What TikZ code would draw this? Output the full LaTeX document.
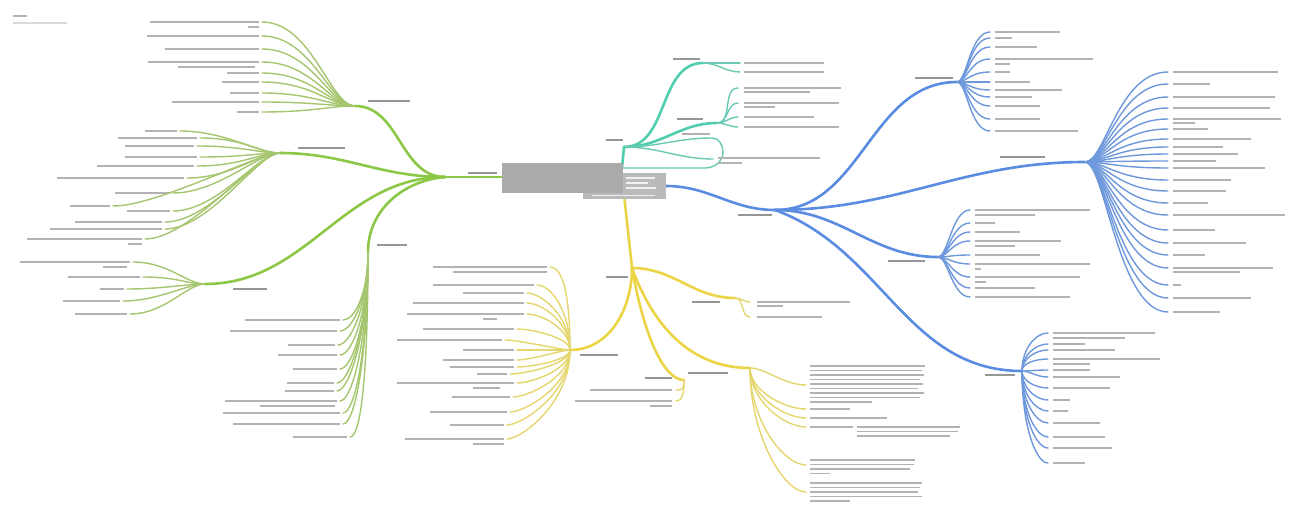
\documentclass[tikz,border=0pt]{standalone}
\usetikzlibrary{calc}
\definecolor{gstem}{RGB}{140,200,70}
\definecolor{gtwig}{RGB}{165,198,110}
\definecolor{tstem}{RGB}{80,205,175}
\definecolor{ttwig}{RGB}{105,202,180}
\definecolor{bstem}{RGB}{90,140,225}
\definecolor{btwig}{RGB}{110,152,220}
\definecolor{ystem}{RGB}{235,212,70}
\definecolor{ytwig}{RGB}{230,214,110}
\definecolor{txtgray}{RGB}{178,178,178}
\definecolor{hubgray}{RGB}{150,150,150}
\definecolor{rootdark}{RGB}{170,170,170}
\definecolor{rootlight}{RGB}{186,186,186}
\newcommand\lbar[3]{\fill[txt] (#1,-#3-0.8) rectangle (#2,-#3+0.8);}
\newcommand\hublbl[3]{\fill[hubtxt] (#1,-#3-1) rectangle (#2,-#3+1);}
\begin{document}
\begin{tikzpicture}[x=1pt,y=1pt,
  twig/.style={line width=1.4pt,line cap=round},
  stem/.style={line width=2.6pt,line cap=round},
  txt/.style={fill=txtgray},
  hubtxt/.style={fill=hubgray},
  rootbox/.style={draw=none,fill=#1,inner sep=0pt}]
\useasboundingbox (0,0) rectangle (1290,-505);
\fill[white] (0,0) rectangle (1290,-505);

% title in the corner
\fill[gray!60] (13,-15.2) rectangle (27,-16.8);
\fill[gray!30] (13,-22.3) rectangle (67,-23.7);

% ---------- hubs ----------
\coordinate (g0) at (445,-177);
\coordinate (ga) at (355,-106);
\coordinate (gb) at (280,-153);
\coordinate (gc) at (205,-284);
\coordinate (gd) at (368,-252);
\coordinate (tb0) at (622,-168);
\coordinate (t0) at (624,-147);
\coordinate (ta) at (703,-63);
\coordinate (tb) at (717,-123);
\coordinate (b0) at (775,-210);
\coordinate (ba) at (957,-82);
\coordinate (bb) at (1085,-162);
\coordinate (bc) at (938,-257);
\coordinate (bd) at (1022,-371);
\coordinate (y0) at (632,-268);
\coordinate (ya) at (570,-350);
\coordinate (yb) at (735,-298);
\coordinate (yc) at (684,-380);
\coordinate (yd) at (750,-368);

% ---------- green branch (left) ----------
\draw[stem,gstem] (g0) -- (502,-177);
\draw[stem,gstem] (g0) to[out=180,in=0] (ga);
\draw[stem,gstem] (g0) to[out=180,in=0] (gb);
\draw[stem,gstem] (g0) to[out=180,in=0] (gc);
\draw[stem,gstem] (g0) to[out=185,in=90] (gd);
\hublbl{468}{497}{173}
\hublbl{368}{410}{101}
\hublbl{298}{345}{148}
\hublbl{233}{267}{289}
\hublbl{377}{407}{245}

\foreach \y/\l in {22/150,36/147,49/165,62/148,73/227,82/222,93/230,102/172,112/237}{
  \coordinate (ga-\y) at (262,-\y);
  \draw[twig,gtwig] (ga) to[out=180,in=0,out distance=25pt,in distance=50pt] (ga-\y);
  \lbar{\l}{259}{\y}
}
\lbar{248}{259}{27}
\lbar{178}{255}{67}

\foreach \x/\y/\l in {180/131/145,200/138/118,197/146/125,200/157/125,197/166/97,
  187/178/57,173/193/115,113/206/70,173/211/127,165/222/75,165/229/50,145/239/27}{
  \coordinate (gb-\y) at (\x,-\y);
  \draw[twig,gtwig] (gb) to[out=180,in=0,out distance=22pt,in distance=45pt] (gb-\y);
  \lbar{\l}{\x-3}{\y}
}
\lbar{128}{142}{244}

\foreach \x/\y/\l in {133/262/20,143/277/68,127/289/100,123/301/63,130/314/75}{
  \coordinate (gc-\y) at (\x,-\y);
  \draw[twig,gtwig] (gc) to[out=180,in=0,out distance=18pt,in distance=35pt] (gc-\y);
  \lbar{\l}{\x-3}{\y}
}
\lbar{103}{127}{267}

\foreach \x/\y/\l in {343/320/245,340/331/230,338/345/288,340/355/278,340/369/293,
  337/383/287,337/391/285,340/401/225,343/413/223,343/424/233,350/437/293}{
  \pgfmathsetmacro\od{0.6*(\y-252)}
  \coordinate (gd-\y) at (\x,-\y);
  \draw[twig,gtwig] (gd) to[out=270,in=0,out distance=\od pt,in distance=12pt] (gd-\y);
  \lbar{\l}{\x-3}{\y}
}
\lbar{260}{335}{406}

% ---------- teal branch (top) ----------
\draw[stem,tstem] (tb0) -- (t0);
\draw[stem,tstem] (t0) to[out=0,in=180] (ta);
\draw[stem,tstem] (t0) to[out=0,in=180] (tb);
\hublbl{606}{623}{140}
\hublbl{673}{700}{59}
\hublbl{677}{703}{119}
\foreach \y/\w in {63/80,72/80}{
  \coordinate (ta-\y) at (740,-\y);
  \draw[twig,ttwig] (ta) to[out=0,in=180] (ta-\y);
  \lbar{744}{744+\w}{\y}
}
\foreach \y/\w in {88/97,103/95,117/70,127/95}{
  \coordinate (tb-\y) at (738,-\y);
  \draw[twig,ttwig] (tb) to[out=0,in=180] (tb-\y);
  \lbar{744}{744+\w}{\y}
}
\lbar{744}{810}{92}
\lbar{744}{775}{107}
\coordinate (tc1) at (712,-138);
\coordinate (tc2) at (713,-159);
\coordinate (tc3) at (705,-168);
\draw[twig,ttwig] (t0) to[out=0,in=180] (tc1);
\draw[twig,ttwig] (t0) to[out=0,in=180] (tc2);
\draw[twig,ttwig] (tb0) -- (tc3) to[out=0,in=-90] (723,-152) to[out=90,in=0] (tc1);
\lbar{682}{710}{134}
\lbar{718}{820}{158}
\lbar{718}{742}{163}

% ---------- blue branch (right) ----------
\draw[stem,bstem] (666,-186) to[out=0,in=180] (b0);
\draw[stem,bstem] (b0) to[out=0,in=180] (ba);
\draw[stem,bstem] (b0) to[out=0,in=180] (bb);
\draw[stem,bstem] (b0) to[out=0,in=180] (bc);
\draw[stem,bstem] (b0) to[out=-20,in=180] (bd);
\hublbl{738}{772}{215}
\hublbl{915}{953}{78}
\hublbl{1000}{1045}{157}
\hublbl{888}{925}{261}
\hublbl{985}{1015}{375}

\foreach \y/\w in {32/65,38/17,47/42,59/98,72/15,82/35,90/67,97/37,106/45,119/45,131/83}{
  \coordinate (ba-\y) at (990,-\y);
  \draw[twig,btwig] (ba) to[out=0,in=180,out distance=10pt,in distance=20pt] (ba-\y);
  \lbar{995}{995+\w}{\y}
}
\lbar{995}{1010}{64}

\foreach \y/\w in {72/105,84/37,97/102,108/97,119/108,129/35,139/78,147/50,154/65,161/43,
  168/92,180/58,191/53,203/35,215/112,230/42,243/73,255/32,268/100,285/8,298/78,312/47}{
  \coordinate (bb-\y) at (1168,-\y);
  \draw[twig,btwig] (bb) to[out=0,in=180,out distance=20pt,in distance=50pt] (bb-\y);
  \lbar{1173}{1173+\w}{\y}
}
\lbar{1173}{1195}{123}
\lbar{1173}{1240}{272}

\foreach \y/\w in {210/115,223/20,232/45,241/86,255/65,264/115,277/105,288/60,297/95}{
  \coordinate (bc-\y) at (970,-\y);
  \draw[twig,btwig] (bc) to[out=0,in=180,out distance=10pt,in distance=18pt] (bc-\y);
  \lbar{975}{975+\w}{\y}
}
\lbar{975}{1035}{215}
\lbar{975}{1015}{246}
\lbar{975}{981}{269}
\lbar{975}{986}{282}

\foreach \y/\w in {333/102,344/32,350/62,359/107,370/37,377/67,388/57,400/17,411/15,
  423/47,437/52,448/59,463/32}{
  \pgfmathsetmacro\dy{\y-371}
  \pgfmathsetmacro\oa{abs(\dy)<12 ? 0 : (\dy<0 ? 90 : 270)}
  \pgfmathsetmacro\od{max(0.6*abs(\dy),8)}
  \coordinate (bd-\y) at (1048,-\y);
  \draw[twig,btwig] (bd) to[out=\oa,in=180,out distance=\od pt,in distance=12pt] (bd-\y);
  \lbar{1053}{1053+\w}{\y}
}
\lbar{1053}{1125}{338}
\lbar{1053}{1090}{364}

% ---------- yellow branch (bottom) ----------
\draw[stem,ystem] (624.5,-199) -- (y0);
\draw[stem,ystem] (y0) to[out=-90,in=0] (ya);
\draw[stem,ystem] (y0) to[out=0,in=180] (yb);
\draw[stem,ystem] (y0) to[out=-80,in=180,out distance=70pt,in distance=20pt] (yc);
\draw[stem,ystem] (y0) to[out=-70,in=180] (yd);
\hublbl{606}{628}{277}
\hublbl{580}{618}{355}
\hublbl{692}{720}{302}
\hublbl{645}{672}{378}
\hublbl{688}{728}{373}

\foreach \x/\y/\l in {550/267/433,537/285/433,527/293/463,527/303/413,527/314/407,
  517/329/423,505/340/397,517/350/463,517/360/443,517/367/450,510/374/477,
  517/383/397,513/397/452,510/412/430,507/425/450,507/439/405}{
  \pgfmathsetmacro\dy{\y-350}
  \pgfmathsetmacro\oa{abs(\dy)<15 ? 180 : (\dy<0 ? 90 : 270)}
  \pgfmathsetmacro\od{max(0.6*abs(\dy),8)}
  \coordinate (ya-\y) at (\x,-\y);
  \draw[twig,ytwig] (ya) to[out=\oa,in=0,out distance=\od pt,in distance=14pt] (ya-\y);
  \lbar{\l}{\x-3}{\y}
}
\lbar{453}{547}{272}
\lbar{483}{497}{319}
\lbar{473}{500}{388}
\lbar{473}{504}{444}

\foreach \y/\w in {302/93,317/65}{
  \coordinate (yb-\y) at (750,-\y);
  \draw[twig,ytwig] (yb) to[out=0,in=180] (yb-\y);
  \lbar{757}{757+\w}{\y}
}
\lbar{757}{783}{306}

\foreach \y/\l in {390/590,401/575}{
  \coordinate (yc-\y) at (676,-\y);
  \draw[twig,ytwig] (yc) to[out=270,in=0,out distance=8pt,in distance=8pt] (yc-\y);
  \lbar{\l}{672}{\y}
}
\lbar{650}{672}{406}

\foreach \y in {385,409,418,427,465,492}{
  \pgfmathsetmacro\dy{\y-368}
  \pgfmathsetmacro\oa{abs(\dy)<20 ? 0 : 270}
  \pgfmathsetmacro\od{max(0.55*abs(\dy),15)}
  \coordinate (yd-\y) at (806,-\y);
  \draw[twig,ytwig] (yd) to[out=\oa,in=180,out distance=\od pt,in distance=22pt] (yd-\y);
}
\foreach \y/\w in {366/115,370.5/112,375/114,379.5/110,384/113,388.5/108,393/114,397.5/110,402/62}{
  \lbar{810}{810+\w}{\y}
}
\lbar{810}{850}{409}
\lbar{810}{887}{418}
\lbar{810}{853}{427}
\lbar{857}{960}{427}
\lbar{857}{958}{431.5}
\lbar{857}{950}{436}
\foreach \y/\w in {460/105,464.5/104,469/100,473.5/20}{
  \lbar{810}{810+\w}{\y}
}
\foreach \y/\w in {483/112,487.5/110,492/108,496.5/112,501/40}{
  \lbar{810}{810+\w}{\y}
}

% ---------- central topic ----------
\node[rootbox=rootlight,minimum width=83pt,minimum height=26pt] (root2) at (624.5,-186) {};
\node[rootbox=rootdark,minimum width=121pt,minimum height=30pt] (root) at (562.5,-178) {};
\fill[gray!12] (626,-177.3) rectangle (655,-178.7);
\fill[gray!12] (626,-182.3) rectangle (648,-183.7);
\fill[gray!12] (626,-187.3) rectangle (656,-188.7);
\fill[gray!12] (592,-194.8) rectangle (655,-196.2);
\end{tikzpicture}
\end{document}
